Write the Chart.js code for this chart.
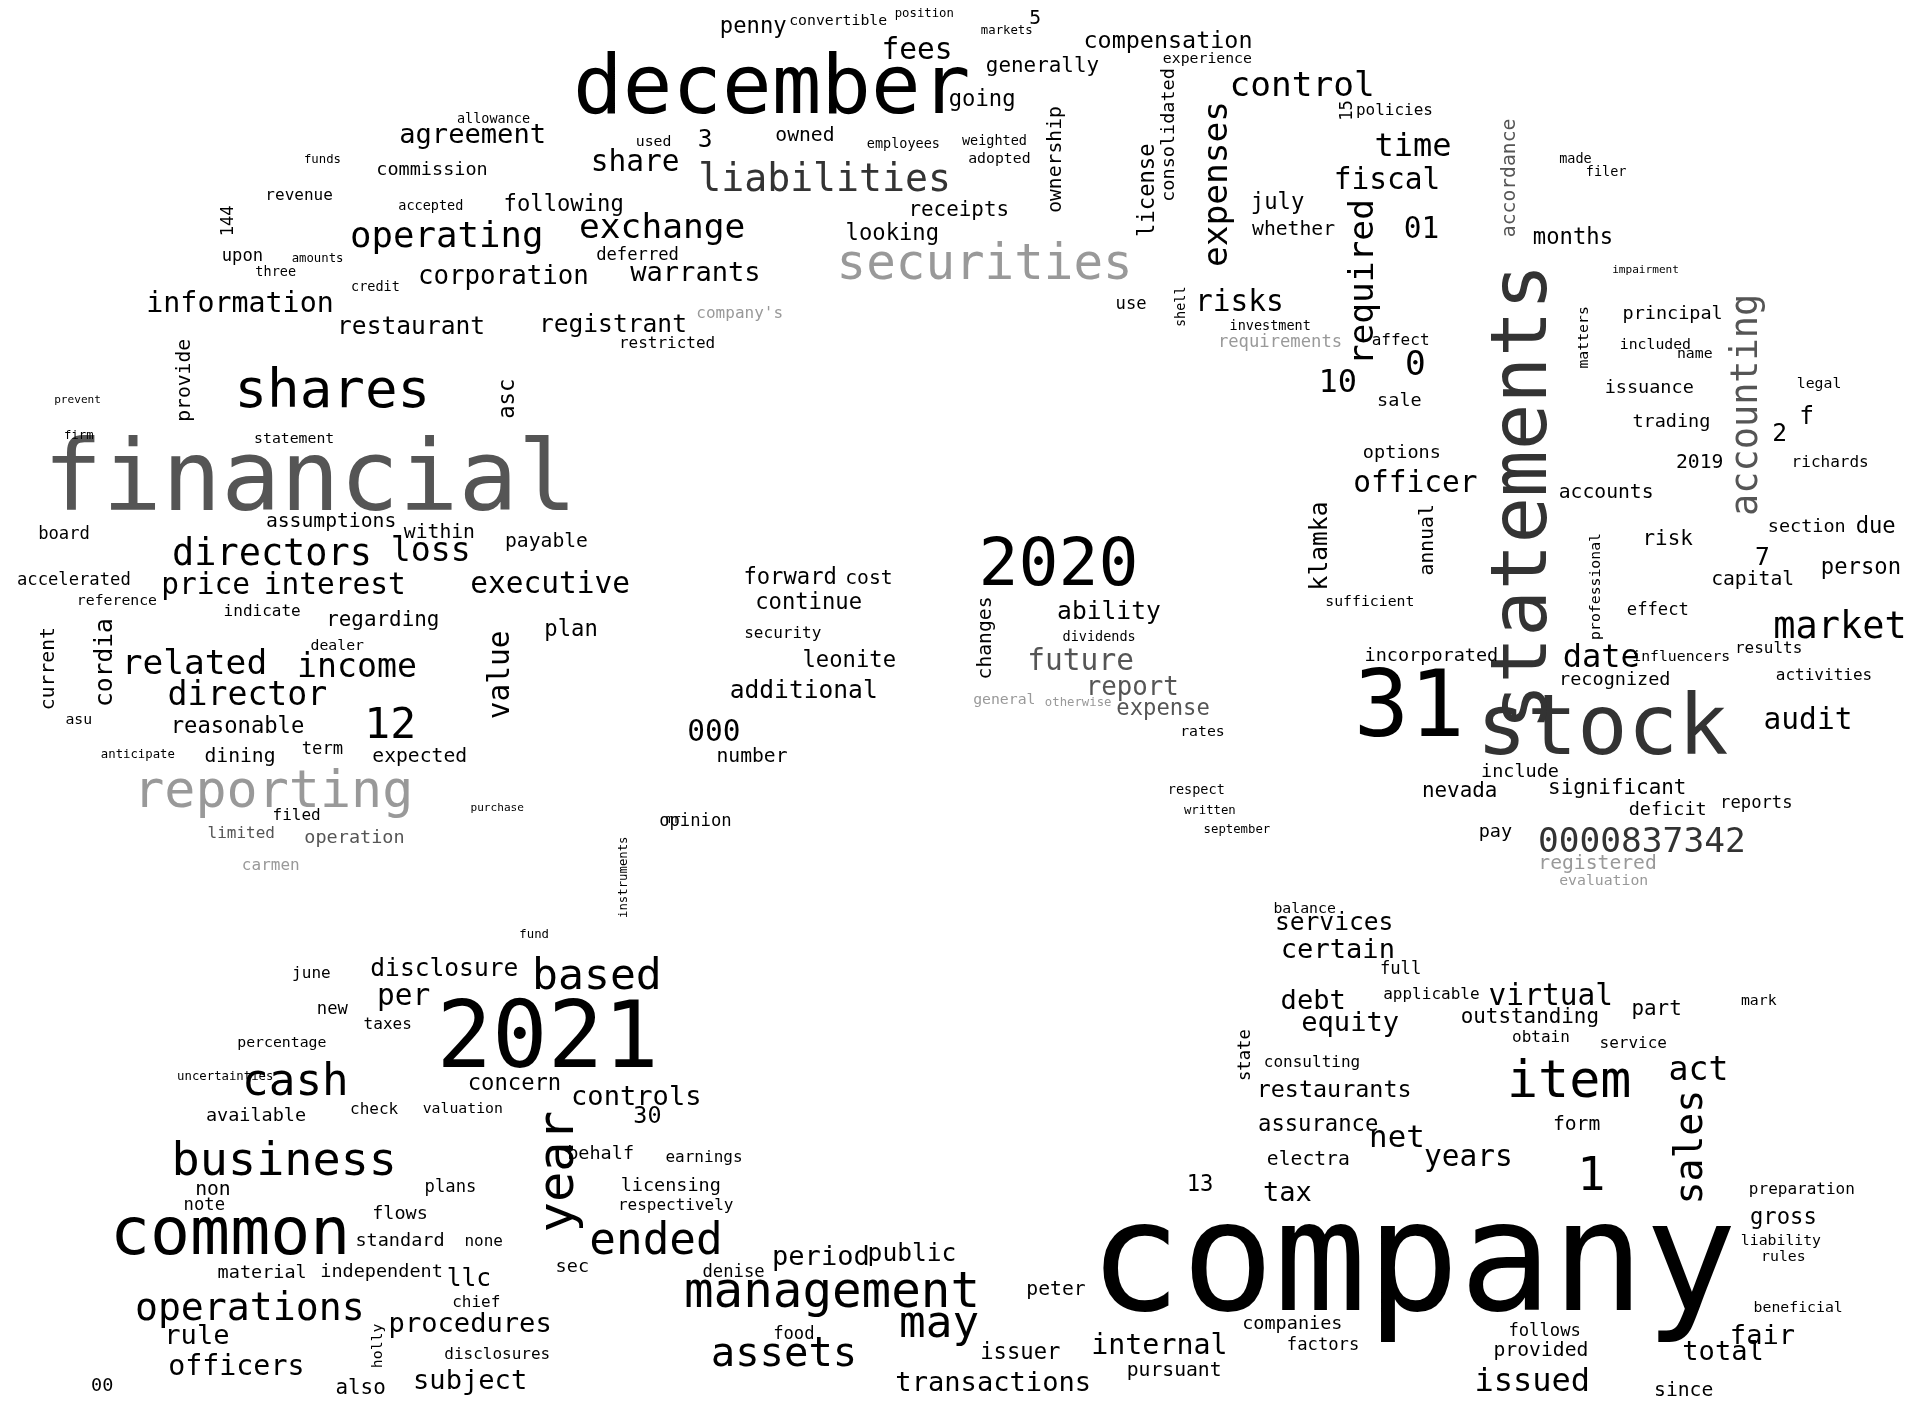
<!DOCTYPE html>
<html>
<head>
<meta charset="utf-8">
<script src="https://cdn.jsdelivr.net/npm/chart.js@4"></script>
<style>
  html, body { margin: 0; padding: 0; background: #fff; }
  #wrap { width: 1920px; height: 1406px; }
</style>
</head>
<body>
<div id="wrap"><canvas id="cloud"></canvas></div>
<script>
// word cloud data (x/y in a 1560 x 1146 word space, weight ~ font size)
const words = [
  'company','financial','december','2021','stock','statements','31','2020',
  'common','shares','reporting','securities','item','business','management','ended',
  'year','liabilities','accounting','market','operations','operating','exchange','directors',
  'loss','based','cash','may','0000837342','assets','12','1',
  'sales','act','related','director','income','price','interest','value',
  'executive','required','expenses','control','time','fiscal','risks','10',
  '0','officer','klamka','date','audit','virtual','certain','services',
  'debt','equity','net','years','tax','internal','issued','fair',
  'total','transactions','subject','officers','procedures','disclosure','per','controls',
  'concern','period','public','llc','rule','information','restaurant','registrant',
  'corporation','warrants','agreement','share','following','fees','compensation','penny',
  'generally','going','ownership','license','consolidated','3','owned','receipts',
  'looking','july','whether','01','months','accordance','future','ability',
  'report','expense','forward','continue','cost','leonite','additional','000',
  'number','changes','opinion','dining','expected','reasonable','cordia','current',
  'provide','asc','within','payable','assumptions','statement','board','accelerated',
  'regarding','plan','filed','operation','limited','carmen','term','commission',
  'revenue','upon','144','significant','include','nevada','pay','registered',
  'evaluation','incorporated','trading','issuance','principal','2019','accounts','risk',
  'capital','person','due','section','2','f','7','richards',
  'sufficient','annual','options','sale','professional','reports','deficit','recognized',
  'influencers','effect','results','activities','peter','issuer','pursuant','companies',
  'factors','provided','follows','gross','preparation','liability','rules','beneficial',
  'since','restaurants','assurance','electra','form','13','outstanding','part',
  'state','consulting','applicable','full','service','obtain','mark','flows',
  'standard','independent','material','note','non','available','plans','new',
  'taxes','percentage','check','valuation','behalf','30','licensing','respectively',
  'earnings','sec','denise','food','also','00','june','holly',
  'chief','disclosures','balance','none','instruments','fund','mr','dealer',
  'indicate','security','dividends','rates','respect','september','written','use',
  'shell','affect','matters','name','legal','included','impairment','made',
  'filer','policies','15','adopted','weighted','employees','used','experience',
  '5','convertible','position','markets','allowance','accepted','credit','funds',
  'three','amounts','deferred','restricted',"company's",'requirements','investment','general',
  'otherwise','reference','asu','anticipate','prevent','firm','purchase','uncertainties'
];
const xVals = [
  1148,252,627,445,1302,1240,1145,860,
  187,270,222,800,1275,231,676,533,
  455,670,1420,1495,203,363,538,221,
  350,485,240,763,1334,637,317,1293,
  1375,1380,158,201,290,167,272,407,
  447,1108,990,1058,1148,1127,1007,1087,
  1150,1150,1073,1301,1469,1260,1087,1084,
  1067,1097,1135,1193,1046,942,1245,1432,
  1400,807,382,192,382,361,328,517,
  418,667,741,381,160,195,334,498,
  409,565,384,516,458,745,949,612,
  847,798,858,933,950,573,654,779,
  725,1038,1051,1155,1278,1227,878,901,
  920,945,642,657,706,690,653,580,
  611,801,565,195,341,193,86,40,
  150,413,357,444,269,239,52,60,
  311,464,241,288,196,220,262,351,
  243,197,186,1314,1235,1186,1215,1298,
  1303,1163,1358,1340,1359,1381,1305,1355,
  1424,1512,1524,1468,1446,1468,1432,1487,
  1113,1160,1139,1137,1297,1427,1355,1312,
  1366,1347,1437,1482,858,829,954,1050,
  1075,1252,1255,1449,1464,1447,1449,1461,
  1368,1084,1071,1063,1281,975,1243,1346,
  1012,1066,1163,1138,1327,1252,1429,325,
  325,310,213,166,173,208,366,270,
  315,229,304,376,488,526,545,549,
  572,465,596,645,293,83,253,307,
  387,404,1060,393,507,434,547,274,
  213,636,893,977,972,1005,983,919,
  960,1138,1287,1377,1478,1345,1337,1280,
  1305,1133,1095,812,808,734,531,981,
  841,681,751,818,401,350,305,262,
  224,258,518,542,601,1040,1032,816,
  876,95,64,112,63,64,404,183
];
const yVals = [
  1035,395,75,850,597,405,580,463,
  1008,320,647,217,883,948,1055,1013,
  955,148,330,512,1068,194,187,453,
  450,797,883,1080,687,1105,592,960,
  935,873,542,568,545,478,478,550,
  477,230,150,71,120,148,247,313,
  298,395,445,537,588,813,775,753,
  817,835,928,944,973,1098,1127,1090,
  1103,1128,1126,1115,1080,790,813,895,
  884,1025,1023,1043,1090,248,267,265,
  226,223,111,133,167,42,34,22,
  54,82,130,155,110,115,111,172,
  191,166,187,188,194,145,540,499,
  561,578,471,492,472,539,564,598,
  617,520,670,617,617,593,540,545,
  310,325,434,442,425,358,436,473,
  506,514,665,683,680,706,611,139,
  160,209,180,643,629,645,678,704,
  718,535,344,316,256,377,402,440,
  473,463,430,430,354,340,455,377,
  491,440,369,327,478,655,660,554,
  536,498,529,551,1051,1103,1117,1079,
  1097,1101,1085,993,970,1012,1025,1066,
  1134,889,917,945,917,966,829,823,
  860,866,811,790,851,846,816,990,
  1012,1037,1038,983,970,910,968,823,
  835,850,905,904,941,910,967,983,
  944,1033,1037,1088,1132,1130,794,1097,
  1062,1104,741,1012,715,762,668,527,
  499,517,520,597,644,676,661,248,
  250,278,275,289,313,281,220,130,
  141,90,90,130,115,118,116,48,
  15,17,11,25,97,168,234,130,
  222,211,208,280,256,279,266,571,
  573,490,587,615,326,355,659,878
];
const weights = [
  125,80,67,75,68,63,75,54,
  54,44,42,40,42,38,40,36,
  41,31,30,30,31,29,28,30,
  27,35,36,36,28,33,35,38,
  31,27,28,27,27,24,24,24,
  24,28,28,28,26,24,24,26,
  28,24,20,26,24,24,22,20,
  22,22,25,24,22,23,26,22,
  22,22,22,23,22,20,24,22,
  18,22,20,20,22,23,20,20,
  21,22,22,24,18,24,19,18,
  17,18,16,18,15,20,16,17,
  18,18,16,24,18,16,24,20,
  21,18,18,18,16,18,20,24,
  16,16,14,16,16,18,20,16,
  16,18,16,16,16,12,14,14,
  17,18,13,15,13,13,14,15,
  13,14,14,17,15,17,15,16,
  12,15,15,15,15,16,16,17,
  16,18,18,15,20,20,20,13,
  12,16,15,15,12,14,15,15,
  12,14,13,13,16,18,16,15,
  14,16,14,18,13,12,12,12,
  16,19,18,16,16,18,17,17,
  14,13,13,14,13,13,12,15,
  15,15,15,14,16,15,14,14,
  13,12,13,12,15,19,15,13,
  13,15,14,14,17,15,13,12,
  13,13,12,13,10,10,10,12,
  13,13,11,12,11,10,10,14,
  11,13,12,12,12,12,9,11,
  11,13,14,12,11,11,12,12,
  16,12,10,10,11,11,11,10,
  11,10,14,13,13,14,11,12,
  10,12,12,10,9,10,9,10
];
// 1 = rotated (reads bottom to top)
const vertical = [
  0,0,0,0,0,1,0,0, 0,0,0,0,0,0,0,0, 1,0,1,0,0,0,0,0, 0,0,0,0,0,0,0,0,
  1,0,0,0,0,0,0,1, 0,1,1,0,0,0,0,0, 0,0,1,0,0,0,0,0, 0,0,0,0,0,0,0,0,
  0,0,0,0,0,0,0,0, 0,0,0,0,0,0,0,0, 0,0,0,0,0,0,0,0, 0,0,1,1,1,0,0,0,
  0,0,0,0,0,1,0,0, 0,0,0,0,0,0,0,0, 0,1,0,0,0,0,1,1, 1,1,0,0,0,0,0,0,
  0,0,0,0,0,0,0,0, 0,0,1,0,0,0,0,0, 0,0,0,0,0,0,0,0, 0,0,0,0,0,0,0,0,
  0,1,0,0,1,0,0,0, 0,0,0,0,0,0,0,0, 0,0,0,0,0,0,0,0, 0,0,0,0,0,0,0,0,
  1,0,0,0,0,0,0,0, 0,0,0,0,0,0,0,0, 0,0,0,0,0,0,0,0, 0,0,0,0,0,0,0,1,
  0,0,0,0,1,0,0,0, 0,0,0,0,0,0,0,0, 1,0,1,0,0,0,0,0, 0,0,1,0,0,0,0,0,
  0,0,0,0,0,0,0,0, 0,0,0,0,0,0,0,0, 0,0,0,0,0,0,0,0, 0,0,0,0,0,0,0,0
];
// k black, m dark grey, d grey, g light grey
const shades = [
  'k','d','k','k','m','m','k','k', 'k','k','g','g','k','k','k','k',
  'k','m','d','k','k','k','k','k', 'k','k','k','k','m','k','k','k'
];
const shadeColors = { k: '#000000', m: '#333333', d: '#555555', g: '#999999' };
const greyWords = ['accordance','future','report','expense','operation','limited'];
const lightWords = ['carmen','registered','evaluation',"company's",'requirements','general','otherwise'];

function shadeOf(i) {
  const w = words[i];
  if (lightWords.includes(w)) return shadeColors.g;
  if (greyWords.includes(w)) return shadeColors.d;
  return shadeColors[shades[i] || 'k'];
}

const wordText = {
  id: 'wordText',
  afterDatasetsDraw(chart) {
    const ctx = chart.ctx;
    const k = chart.chartArea.width / 1560;
    const meta = chart.getDatasetMeta(0);
    ctx.save();
    ctx.textAlign = 'center';
    ctx.textBaseline = 'middle';
    meta.data.forEach((pt, i) => {
      ctx.save();
      ctx.translate(pt.x, pt.y);
      if (vertical[i]) ctx.rotate(-Math.PI / 2);
      ctx.font = (weights[i] * k).toFixed(1) + 'px "DejaVu Sans Mono"';
      ctx.fillStyle = shadeOf(i);
      ctx.fillText(words[i], 0, 0);
      ctx.restore();
    });
    ctx.restore();
  }
};

const ctx = document.getElementById('cloud').getContext('2d');
new Chart(ctx, {
  type: 'scatter',
  data: {
    datasets: [{
      data: words.map((w, i) => ({ x: xVals[i], y: yVals[i] })),
      pointRadius: 0,
      pointHoverRadius: 0
    }]
  },
  options: {
    responsive: true,
    maintainAspectRatio: false,
    animation: false,
    layout: { padding: 0 },
    plugins: { legend: { display: false }, tooltip: { enabled: false } },
    scales: {
      x: { type: 'linear', min: 0, max: 1560, display: false },
      y: { type: 'linear', min: 0, max: 1146, reverse: true, display: false }
    }
  },
  plugins: [wordText]
});
</script>
</body>
</html>
